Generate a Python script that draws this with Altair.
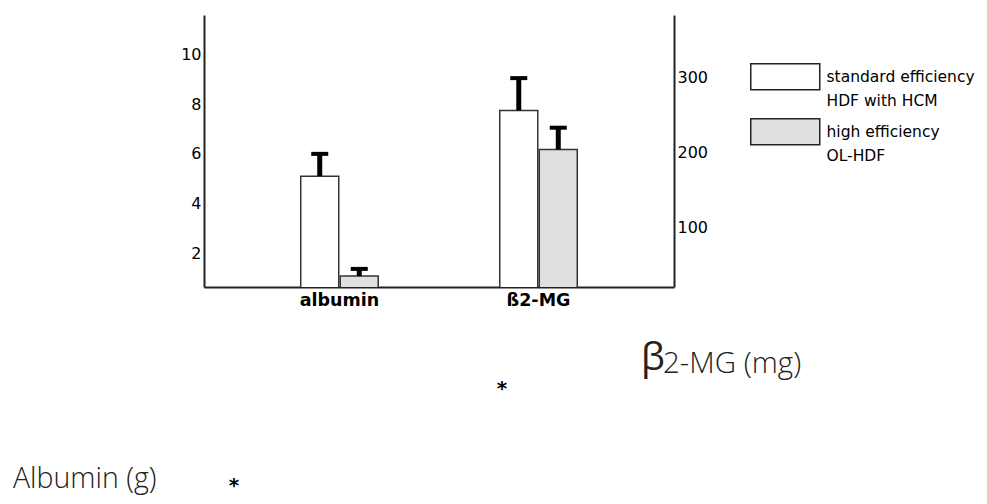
import altair as alt
import pandas as pd

# ---- data ----
categories = ["albumin", "ß2-MG"]
groups = ["standard efficiency\nHDF with HCM", "high efficiency\nOL-HDF"]
albumin_mean = [5.1, 1.07]      # g
albumin_err = [6.0, 1.36]       # g (upper error bar)
b2mg_mean = [256, 204]          # mg
b2mg_err = [299, 233]           # mg
left_ticks = [2, 4, 6, 8, 10]
right_ticks = [100, 200, 300]
left_domain = [0.63, 11.6]
right_domain = [21, 383]

alb = pd.DataFrame({"category": categories[0], "group": groups,
                    "mean": albumin_mean, "err": albumin_err})
b2m = pd.DataFrame({"category": categories[1], "group": groups,
                    "mean": b2mg_mean, "err": b2mg_err})

FONT = "DejaVu Sans"

x_enc = alt.X("category:N", sort=categories,
              scale=alt.Scale(domain=categories, paddingInner=0.6106, paddingOuter=0.486),
              axis=alt.Axis(title=None, ticks=False, labelAngle=0, labelFont=FONT,
                            labelFontSize=17.5, labelFontWeight="bold", labelColor="black",
                            labelPadding=4, domainColor="#222", domainWidth=2, grid=False))
xo_enc = alt.XOffset("group:N", sort=groups,
                     scale=alt.Scale(domain=groups, paddingInner=0.038, paddingOuter=0))

fill_enc = alt.Fill("group:N", sort=groups,
                    scale=alt.Scale(domain=groups, range=["#ffffff", "#e0e0e0"]),
                    legend=alt.Legend(title=None, orient="none", legendX=546, legendY=49,
                                      padding=0, rowPadding=5,
                                      symbolType="M-1,-1.056H3V0.452H-1Z", symbolSize=1190,
                                      symbolStrokeColor="#222", symbolStrokeWidth=1.5,
                                      labelFont=FONT, labelFontSize=15.5, labelColor="black",
                                      labelLimit=400, labelOffset=40.5, labelBaseline="alphabetic",
                                      labelExpr="split(datum.label, '\\n')"))


def panel(df, domain, ticks, orient):
    y_scale = alt.Scale(domain=domain, zero=False, nice=False)
    y_axis = alt.Axis(title=None, orient=orient, values=ticks, ticks=False, grid=False,
                      labelFont=FONT, labelFontSize=16, labelColor="black",
                      labelPadding=3, domainColor="#222", domainWidth=2)
    base = alt.Chart(df)
    bars = base.mark_bar(clip=True, stroke="#333", strokeWidth=1.5).encode(
        x=x_enc, xOffset=xo_enc,
        y=alt.Y("mean:Q", scale=y_scale, axis=y_axis),
        fill=fill_enc)
    stems = base.mark_rule(color="black", strokeWidth=5).encode(
        x=x_enc, xOffset=xo_enc,
        y=alt.Y("mean:Q", scale=y_scale, axis=y_axis), y2="err:Q")
    caps = base.mark_tick(color="black", thickness=4, size=17, opacity=1).encode(
        x=x_enc, xOffset=xo_enc,
        y=alt.Y("err:Q", scale=y_scale, axis=y_axis))
    return alt.layer(bars, stems, caps)


left = panel(alb, left_domain, left_ticks, "left")
right = panel(b2m, right_domain, right_ticks, "right")

# free-floating annotations of the figure
ann_alb = alt.Chart(pd.DataFrame({"t": ["Albumin (g)"]})).mark_text(
    font="Open Sans", fontWeight=300, fontSize=28.5, align="left", baseline="alphabetic",
    color="#222").encode(x=alt.value(-191), y=alt.value(473), text="t:N")
ann_beta = alt.Chart(pd.DataFrame({"t": ["β"]})).mark_text(
    font="Open Sans", fontSize=38, align="left", baseline="alphabetic",
    color="#222").encode(x=alt.value(437), y=alt.value(355), text="t:N")
ann_b2 = alt.Chart(pd.DataFrame({"t": ["2-MG (mg)"]})).mark_text(
    font="Open Sans", fontWeight=300, fontSize=29.5, align="left", baseline="alphabetic",
    color="#222").encode(x=alt.value(459), y=alt.value(358), text="t:N")
ann_star1 = alt.Chart(pd.DataFrame({"t": ["*"]})).mark_text(
    font=FONT, fontWeight="bold", fontSize=20, align="center", baseline="alphabetic",
    color="black").encode(x=alt.value(298), y=alt.value(380), text="t:N")
ann_star2 = alt.Chart(pd.DataFrame({"t": ["*"]})).mark_text(
    font=FONT, fontWeight="bold", fontSize=20, align="center", baseline="alphabetic",
    color="black").encode(x=alt.value(30), y=alt.value(477), text="t:N")

chart = alt.layer(left, right, ann_alb, ann_beta, ann_b2, ann_star1, ann_star2).resolve_scale(
    y="independent"
).properties(
    width=470, height=272,
    autosize=alt.AutoSizeParams(type="none"),
    padding={"left": 196, "top": 7, "right": 305, "bottom": 209},
).configure(
    view=alt.ViewConfig(stroke=None),
    style={"guide-label": {"lineHeight": 24}},
)

chart.save("out.html", embed_options={"renderer": "svg", "actions": False})
